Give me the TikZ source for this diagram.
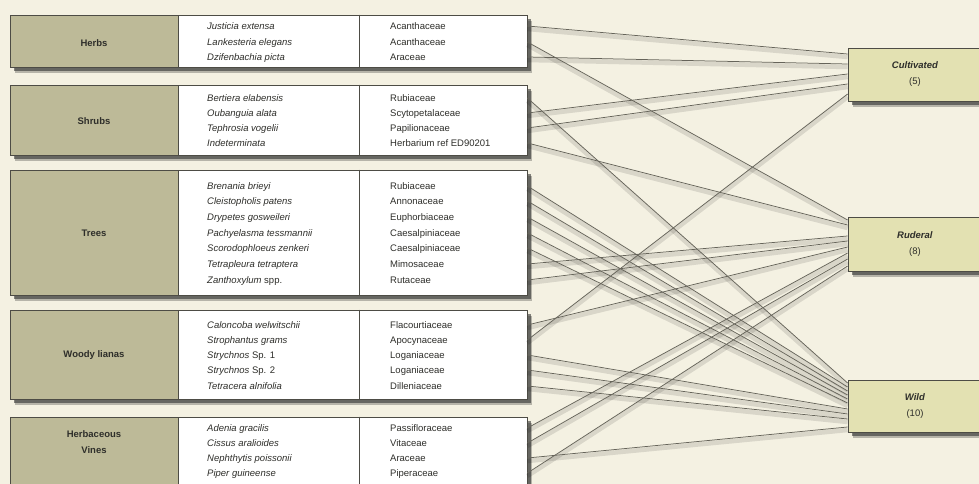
\documentclass[tikz,border=0pt]{standalone}
\usepackage{fontspec}
\setmainfont{Liberation Sans}
\usetikzlibrary{shadows,calc}
\definecolor{bgc}{HTML}{F4F1E2}
\definecolor{labc}{HTML}{BDBA98}
\definecolor{catc}{HTML}{E3E1B2}
\definecolor{edgec}{HTML}{4D4C45}
\definecolor{linkc}{HTML}{66645A}
\definecolor{txtc}{HTML}{2E2E2A}
\begin{document}
\begin{tikzpicture}[x=1pt,y=-1pt,
  boxshadow/.style={
    drop shadow={shadow xshift=5pt,shadow yshift=-6pt,opacity=0.25,fill=black},
    drop shadow={shadow xshift=3.5pt,shadow yshift=-4pt,opacity=0.55,fill=black!85}},
  grp/.style={draw=edgec, line width=0.8pt, fill=white, rectangle, inner sep=0pt,
    minimum width=517, boxshadow},
  labcell/.style={draw=edgec, line width=0.8pt, fill=labc, rectangle, inner sep=0pt, minimum width=168},
  labtxt/.style={inner sep=0pt, align=center, text=txtc, font=\fontsize{9.5}{16}\selectfont\bfseries},
  sp/.style={anchor=base west, inner sep=0pt, text=txtc, font=\fontsize{9.5}{15}\selectfont\itshape},
  fam/.style={anchor=base west, inner sep=0pt, text=txtc, font=\fontsize{9.5}{15}\selectfont},
  cat/.style={draw=edgec, line width=0.8pt, fill=catc, rectangle, inner sep=0pt, minimum width=134,
    align=center, text=txtc, font=\fontsize{9.5}{16}\selectfont, boxshadow},
  divider/.style={draw=edgec, line width=0.8pt},
  link/.style={draw=linkc, line width=0.75pt},
  linkshadow/.style={draw=black, opacity=0.11, line width=4.5pt}
]
\useasboundingbox (0,0) rectangle (979,484);
\clip (0,0) rectangle (979,484);
\fill[bgc] (0,0) rectangle (979,484);

% group boxes
\node[grp, minimum height=52] (gherbs) at (268.5,41) {};
\node[grp, minimum height=70] (gshrubs) at (268.5,120) {};
\node[grp, minimum height=125] (gtrees) at (268.5,232.5) {};
\node[grp, minimum height=89] (gwoody) at (268.5,354.5) {};
\node[grp, minimum height=73] (gvines) at (268.5,453.5) {};

\node[labcell, minimum height=52] (lherbs) at (94,41) {};
\node[labcell, minimum height=70] (lshrubs) at (94,120) {};
\node[labcell, minimum height=125] (ltrees) at (94,232.5) {};
\node[labcell, minimum height=89] (lwoody) at (94,354.5) {};
\node[labcell, minimum height=73] (lvines) at (94,453.5) {};

\node[labtxt] (therbs) at (94,43) {Herbs};
\node[labtxt] (tshrubs) at (94,121) {Shrubs};
\node[labtxt] (ttrees) at (94,233) {Trees};
\node[labtxt] (twoody) at (94,355) {Woody lianas};
\node[labtxt] (tvines) at (94,442) {Herbaceous\\Vines};

\foreach \g in {gherbs,gshrubs,gtrees,gwoody,gvines}
  \draw[divider] ([xshift=350pt]\g.north west) -- ([xshift=350pt]\g.south west);

% species and families
\foreach \n/\y/\s/\f in {
 1/26/{Justicia extensa}/{Acanthaceae},
 2/42/{Lankesteria elegans}/{Acanthaceae},
 3/57/{Dzifenbachia picta}/{Araceae},
 4/98/{Bertiera elabensis}/{Rubiaceae},
 5/113/{Oubanguia alata}/{Scytopetalaceae},
 6/128/{Tephrosia vogelii}/{Papilionaceae},
 7/143/{Indeterminata}/{Herbarium ref ED90201},
 8/186/{Brenania brieyi}/{Rubiaceae},
 9/201/{Cleistopholis patens}/{Annonaceae},
 10/217/{Drypetes gosweileri}/{Euphorbiaceae},
 11/233/{Pachyelasma tessmannii}/{Caesalpiniaceae},
 12/248/{Scorodophloeus zenkeri}/{Caesalpiniaceae},
 13/264/{Tetrapleura tetraptera}/{Mimosaceae},
 14/280/{Zanthoxylum \upshape spp.}/{Rutaceae},
 15/325/{Caloncoba welwitschii}/{Flacourtiaceae},
 16/340/{Strophantus grams}/{Apocynaceae},
 17/355/{Strychnos \upshape Sp. 1}/{Loganiaceae},
 18/370/{Strychnos \upshape Sp. 2}/{Loganiaceae},
 19/386/{Tetracera alnifolia}/{Dilleniaceae},
 20/428/{Adenia gracilis}/{Passifloraceae},
 21/443/{Cissus aralioides}/{Vitaceae},
 22/458/{Nephthytis poissonii}/{Araceae},
 23/473/{Piper guineense}/{Piperaceae}} {
  \node[sp] (s\n) at (207,\y+3.4) {\s};
  \node[fam] (f\n) at (390,\y+3.4) {\f};
  \coordinate (y\n) at (0,\y);
}

% category boxes
\node[cat, minimum height=53] (cult) at (915,74.5) {\textbf{\textit{Cultivated}}\\(5)};
\node[cat, minimum height=54] (rud) at (915,244) {\textbf{\textit{Ruderal}}\\(8)};
\node[cat, minimum height=52] (wild) at (915,406) {\textbf{\textit{Wild}}\\(10)};

% end points
\coordinate (c1) at ($(cult.west)+(0,-20.5)$);
\coordinate (c2) at ($(cult.west)+(0,-10.5)$);
\coordinate (c3) at ($(cult.west)+(0,-0.5)$);
\coordinate (c4) at ($(cult.west)+(0,9.5)$);
\coordinate (c5) at ($(cult.west)+(0,19.5)$);
\coordinate (r1) at ($(rud.west)+(0,-24)$);
\coordinate (r2) at ($(rud.west)+(0,-19)$);
\coordinate (r3) at ($(rud.west)+(0,-8)$);
\coordinate (r4) at ($(rud.west)+(0,-3)$);
\coordinate (r5) at ($(rud.west)+(0,3)$);
\coordinate (r6) at ($(rud.west)+(0,9)$);
\coordinate (r7) at ($(rud.west)+(0,15)$);
\coordinate (r8) at ($(rud.west)+(0,22)$);
\coordinate (w1) at ($(wild.west)+(0,-23)$);
\coordinate (w2) at ($(wild.west)+(0,-19)$);
\coordinate (w3) at ($(wild.west)+(0,-15)$);
\coordinate (w4) at ($(wild.west)+(0,-11)$);
\coordinate (w5) at ($(wild.west)+(0,-7)$);
\coordinate (w6) at ($(wild.west)+(0,-3)$);
\coordinate (w7) at ($(wild.west)+(0,3)$);
\coordinate (w8) at ($(wild.west)+(0,8)$);
\coordinate (w9) at ($(wild.west)+(0,13)$);
\coordinate (w10) at ($(wild.west)+(0,21)$);

\def\linklist{y1/gherbs/c1, y2/gherbs/r1, y3/gherbs/c2,
 y4/gshrubs/w1, y5/gshrubs/c3, y6/gshrubs/c4, y7/gshrubs/r2,
 y8/gtrees/w2, y9/gtrees/w3, y10/gtrees/w4, y11/gtrees/w5, y12/gtrees/w6, y13/gtrees/r3, y14/gtrees/r4,
 y15/gwoody/r5, y16/gwoody/c5, y17/gwoody/w7, y18/gwoody/w8, y19/gwoody/w9,
 y20/gvines/r6, y21/gvines/r7, y22/gvines/w10, y23/gvines/r8}

\begin{scope}[transform canvas={yshift=-3pt}]
\foreach \s/\g/\e in \linklist
  \draw[linkshadow] (\g.east |- \s) -- (\e);
\end{scope}
\foreach \s/\g/\e in \linklist
  \draw[link] (\g.east |- \s) -- (\e);
\end{tikzpicture}
\end{document}
